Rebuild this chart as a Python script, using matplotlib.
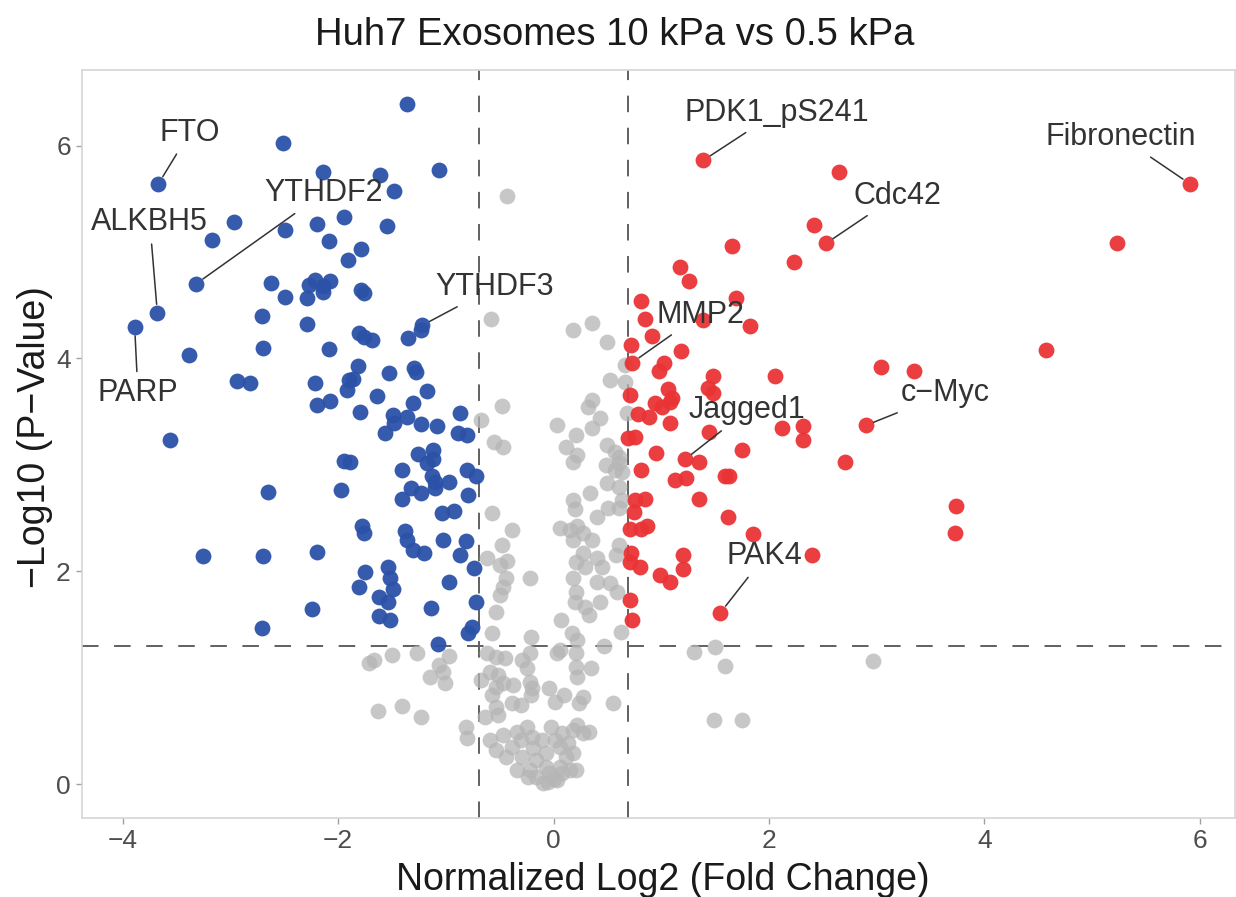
import matplotlib
matplotlib.use("Agg")
import matplotlib.pyplot as plt

plt.rcParams['font.family'] = ['Liberation Sans', 'DejaVu Sans']

# down-regulated (blue)
down_x = [-3.67, -3.68, -3.89, -3.32, -3.17, -2.97, -3.39, -3.56, -2.94, -2.82,
          -3.26, -2.70, -2.65, -2.71, -2.71, -2.29, -2.70, -2.09, -1.81, -1.76,
          -1.69, -1.82, -1.86, -1.90, -1.92, -1.64, -2.22, -2.20, -2.08, -1.80,
          -1.95, -1.89, -1.97, -1.78, -1.76, -2.20, -1.75, -1.81, -1.62, -1.62,
          -2.24, -2.51, -2.14, -1.61, -2.49, -2.20, -1.95, -2.09, -1.79, -1.91,
          -2.62, -2.49, -2.29, -2.27, -2.22, -2.14, -2.08, -2.14, -1.79, -1.76,
          -1.36, -1.06, -1.48, -1.55, -1.22, -1.35, -1.23, -1.53, -1.30, -1.28,
          -1.18, -1.31, -1.49, -1.48, -1.57, -1.36, -1.23, -1.08, -0.87, -0.89,
          -0.80, -1.26, -1.12, -1.18, -1.12, -1.41, -1.13, -1.10, -0.97, -1.32,
          -1.23, -1.41, -1.10, -0.80, -0.72, -0.79, -1.04, -0.92, -1.38, -1.36,
          -1.03, -0.81, -1.31, -1.20, -0.87, -1.54, -1.52, -1.49, -1.54, -1.52,
          -0.97, -0.74, -0.72, -1.14, -0.76, -0.79, -1.07]
down_y = [5.64, 4.43, 4.29, 4.70, 5.11, 5.28, 4.03, 3.23, 3.79, 3.77,
          2.14, 2.14, 2.74, 1.47, 4.40, 4.32, 4.10, 4.09, 4.24, 4.20,
          4.17, 3.93, 3.81, 3.80, 3.70, 3.65, 3.77, 3.56, 3.60, 3.50,
          3.04, 3.03, 2.76, 2.42, 2.36, 2.18, 1.99, 1.85, 1.76, 1.58,
          1.64, 6.02, 5.75, 5.72, 5.21, 5.26, 5.33, 5.10, 5.03, 4.92,
          4.71, 4.58, 4.57, 4.69, 4.74, 4.68, 4.73, 4.62, 4.64, 4.61,
          6.39, 5.77, 5.57, 5.24, 4.31, 4.19, 4.27, 3.86, 3.91, 3.87,
          3.69, 3.58, 3.47, 3.39, 3.30, 3.45, 3.38, 3.36, 3.49, 3.30,
          3.28, 3.10, 3.14, 3.02, 3.05, 2.95, 2.89, 2.84, 2.84, 2.78,
          2.73, 2.68, 2.78, 2.95, 2.89, 2.72, 2.55, 2.57, 2.38, 2.29,
          2.29, 2.28, 2.20, 2.17, 2.15, 2.04, 1.94, 1.83, 1.71, 1.54,
          1.90, 2.03, 1.71, 1.65, 1.48, 1.42, 1.32]

# up-regulated (red)
up_x = [1.39, 2.65, 2.42, 2.53, 1.66, 2.23, 1.17, 1.26, 0.81, 1.69,
        0.85, 1.39, 1.82, 0.91, 0.72, 0.73, 1.18, 1.03, 0.98, 2.06,
        3.04, 3.35, 1.48, 1.43, 1.48, 1.06, 1.10, 0.94, 1.01, 1.08,
        0.71, 0.78, 0.89, 1.08, 1.44, 2.12, 2.32, 2.32, 2.90, 0.69,
        0.76, 0.95, 1.22, 1.35, 1.75, 2.71, 0.81, 1.13, 1.23, 1.59,
        1.63, 1.35, 0.76, 0.85, 0.75, 1.62, 1.85, 0.71, 0.81, 0.87,
        0.72, 1.20, 2.40, 0.71, 0.80, 1.20, 0.99, 1.08, 0.71, 0.73,
        1.55, 5.91, 5.23, 4.57, 3.74, 3.73]
up_y = [5.86, 5.75, 5.25, 5.08, 5.06, 4.91, 4.86, 4.73, 4.54, 4.57,
        4.37, 4.36, 4.30, 4.21, 4.13, 3.96, 4.07, 3.96, 3.88, 3.83,
        3.92, 3.88, 3.83, 3.72, 3.67, 3.71, 3.63, 3.58, 3.54, 3.59,
        3.66, 3.48, 3.45, 3.39, 3.31, 3.35, 3.36, 3.23, 3.37, 3.25,
        3.26, 3.11, 3.05, 3.03, 3.14, 3.03, 2.95, 2.86, 2.88, 2.89,
        2.89, 2.68, 2.67, 2.68, 2.56, 2.51, 2.35, 2.40, 2.40, 2.42,
        2.17, 2.15, 2.15, 2.09, 2.04, 2.02, 1.96, 1.90, 1.73, 1.54,
        1.61, 5.64, 5.08, 4.08, 2.61, 2.36]

# not significant (grey)
ns_x = [-1.71, -1.67, -1.63, -1.50, -1.27, -0.97, -1.06, -1.03, -1.15, -1.01,
        -1.41, -1.23, -0.81, -0.80, -0.67, -0.64,
        -0.43, -0.58, 0.36, 0.18, 0.50, 0.52, 0.66, 0.66, -0.48, -0.67,
        -0.55, -0.47, 0.03, 0.32, 0.36, 0.43, 0.36, 0.21, 0.12, 0.22,
        0.18, 0.50, 0.57, 0.61, 0.49, 0.57, 0.61, 0.64, 0.50, 0.61,
        0.64, 0.61, 0.18, 0.20, 0.34, 0.51, 0.06, 0.15, 0.22, 0.27,
        0.18, 0.36, 0.40, -0.57, -0.39, -0.48, 0.61, 0.27, 0.68,
        -0.62, -0.50, -0.43, -0.44, -0.47, -0.50, -0.22, -0.53, -0.57, -0.21,
        -0.62, -0.53, -0.45, -0.29, -0.25, -0.22, -0.59, -0.52, -0.53, -0.47,
        -0.38, -0.22, -0.20, -0.21, -0.57, -0.04, 0.10, 0.01, -0.53, -0.39,
        -0.30, -0.52, 0.21, 0.22, 0.35, 0.27, 0.24, 0.55, 0.06, 0.03,
        0.21, 0.47,
        0.21, 0.29, 0.40, 0.45, 0.58, 0.18, 0.40, 0.52, 0.59, 0.21,
        0.20, 0.29, 0.33, 0.43, 0.07, 0.17, 0.22, 0.63,
        -0.59, -0.53, -0.47, -0.44, -0.39, -0.34, -0.30, -0.25, -0.20, -0.19,
        -0.16, -0.11, -0.07, -0.02, 0.01, 0.06, 0.08, 0.13, 0.18, 0.22,
        0.27, 0.33, 0.12, 0.06, 0.15, -0.22, -0.16, -0.10, -0.04, 0.03,
        -0.07, -0.29, -0.34, 0.08, 0.21, 0.18, -0.24, -0.05, 0.00,
        1.30, 1.50, 1.59, 2.97, 1.49, 1.75]
ns_y = [1.14, 1.17, 0.69, 1.21, 1.23, 1.20, 1.12, 1.05, 1.01, 0.95,
        0.73, 0.63, 0.54, 0.43, 0.98, 0.63,
        5.53, 4.37, 4.33, 4.27, 4.15, 3.80, 3.94, 3.78, 3.55, 3.42,
        3.21, 3.17, 3.37, 3.54, 3.61, 3.44, 3.35, 3.28, 3.17, 3.09,
        3.03, 3.19, 3.12, 3.07, 3.00, 2.95, 3.02, 2.93, 2.83, 2.79,
        2.67, 2.59, 2.67, 2.58, 2.73, 2.59, 2.41, 2.39, 2.42, 2.36,
        2.29, 2.29, 2.51, 2.55, 2.39, 2.25, 2.25, 2.17, 3.49,
        2.12, 2.06, 2.10, 1.94, 1.85, 1.78, 1.94, 1.62, 1.42, 1.38,
        1.23, 1.19, 1.18, 1.17, 1.09, 1.23, 1.05, 1.02, 0.91, 0.95,
        0.93, 0.96, 0.90, 0.84, 0.84, 0.90, 0.84, 0.77, 0.72, 0.76,
        0.74, 0.65, 1.10, 1.01, 1.09, 0.82, 0.76, 0.76, 1.26, 1.23,
        1.23, 1.30,
        2.09, 2.04, 2.12, 2.04, 2.15, 1.94, 1.90, 1.89, 1.80, 1.80,
        1.71, 1.66, 1.59, 1.71, 1.54, 1.42, 1.35, 1.43,
        0.41, 0.32, 0.46, 0.25, 0.35, 0.49, 0.41, 0.54, 0.44, 0.34,
        0.23, 0.41, 0.29, 0.54, 0.41, 0.35, 0.48, 0.39, 0.51, 0.55,
        0.48, 0.49, 0.25, 0.16, 0.13, 0.13, 0.07, 0.01, 0.10, 0.04,
        0.16, 0.25, 0.13, 0.10, 0.13, 0.29, 0.07, 0.02, 0.05,
        1.24, 1.29, 1.11, 1.16, 0.60, 0.60]

# labelled proteins: name, point, text position
label_names = ['FTO', 'ALKBH5', 'PARP', 'YTHDF2', 'YTHDF3', 'PDK1_pS241',
               'Cdc42', 'MMP2', 'Jagged1', 'c\u2212Myc', 'PAK4', 'Fibronectin']
label_px = [-3.67, -3.68, -3.89, -3.32, -1.22, 1.39, 2.53, 0.73, 1.22, 2.90, 1.55, 5.91]
label_py = [5.64, 4.43, 4.29, 4.70, 4.31, 5.86, 5.08, 3.96, 3.05, 3.37, 1.61, 5.64]
label_tx = [-3.38, -3.75, -3.86, -2.14, -0.55, 2.07, 3.19, 1.36, 1.80, 3.64, 1.96, 5.27]
label_ty = [6.12, 5.28, 3.67, 5.55, 4.67, 6.31, 5.53, 4.41, 3.51, 3.67, 2.14, 6.08]

fc_cut = 0.69
p_cut = 1.30

fig = plt.figure(figsize=(12.36, 8.97), dpi=100)
ax = fig.add_axes([0.0663, 0.088, 0.933, 0.834])

ax.scatter(ns_x, ns_y, s=130, color='#b5b5b5', alpha=0.75, linewidths=0, zorder=2)
ax.scatter(down_x, down_y, s=130, color='#2c52a8', alpha=0.95, linewidths=0, zorder=3)
ax.scatter(up_x, up_y, s=130, color='#ea3335', alpha=0.95, linewidths=0, zorder=3)

for v in (-fc_cut, fc_cut):
    ax.axvline(v, color='#606060', lw=1.4, dashes=(8.5, 8), zorder=1)
ax.axhline(p_cut, color='#606060', lw=1.4, dashes=(8.5, 8), zorder=1)

for name, px, py, tx, ty in zip(label_names, label_px, label_py, label_tx, label_ty):
    ax.annotate(name, xy=(px, py), xytext=(tx, ty), ha='center', va='center',
                fontsize=22, color='#333333', zorder=4,
                arrowprops=dict(arrowstyle='-', color='#333333', lw=1.1,
                                shrinkA=3, shrinkB=6))

ax.set_xlim(-4.38, 6.33)
ax.set_ylim(-0.32, 6.71)
ax.set_xticks([-4, -2, 0, 2, 4, 6])
ax.set_yticks([0, 2, 4, 6])
ax.set_xticklabels(['\u22124', '\u22122', '0', '2', '4', '6'])
ax.tick_params(colors='#a0a0a0', labelcolor='#4d4d4d', labelsize=19, length=4,
               width=1, pad=4)
for sp in ax.spines.values():
    sp.set_color('#d6d6d6')
    sp.set_linewidth(1.2)

fig.text(0.4976, 0.961, 'Huh7 Exosomes 10 kPa vs 0.5 kPa', ha='center', va='center',
         fontsize=27.5, color='#1a1a1a')
fig.text(0.536, 0.019, 'Normalized Log2 (Fold Change)', ha='center', va='center',
         fontsize=27, color='#1a1a1a')
fig.text(0.028, 0.513, '\u2212Log10 (P\u2212Value)', ha='center', va='center',
         rotation=90, fontsize=27, color='#1a1a1a')

fig.savefig('out.png', dpi=100)
